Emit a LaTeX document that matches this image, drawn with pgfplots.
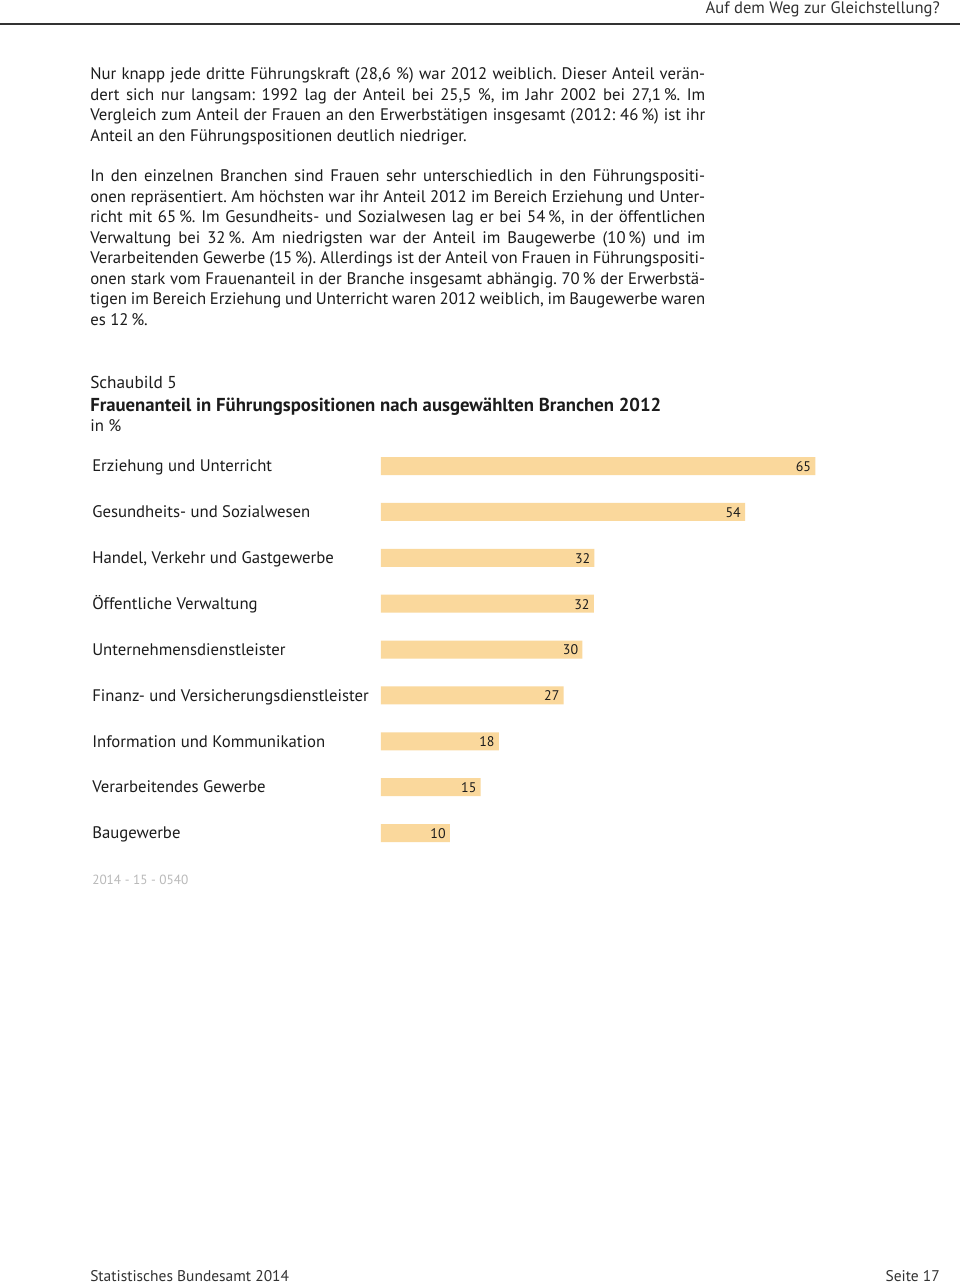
\documentclass[border=0pt]{standalone}
\usepackage{fontspec}
\setmainfont{PT Sans}
\usepackage{pgfplots}
\pgfplotsset{compat=1.18}
\definecolor{barc}{RGB}{250,216,156}
\definecolor{txt}{RGB}{28,28,28}
\definecolor{hdr}{RGB}{50,50,50}
\definecolor{codec}{RGB}{185,185,185}
\newcommand\px[1]{#1*0.75bp}
\newcommand\bodyfont{\fontsize{12.6}{14}\selectfont}
\newcommand\bline[2]{\node[anchor=mid west,inner sep=0,font=\bodyfont,text=txt] at (\px{90},-\px{#1}) {\frenchspacing\makebox[461.25bp][s]{#2}};}
\newcommand\lline[2]{\node[anchor=mid west,inner sep=0,font=\bodyfont,text=txt] at (\px{90},-\px{#1}) {\frenchspacing #2};}
\begin{document}
\frenchspacing
\begin{tikzpicture}
\fill[white] (0,0) rectangle (720bp,-963bp);
% header
\node[anchor=mid east,inner sep=0,font=\fontsize{12.5}{14}\selectfont,text=hdr] at (\px{940},-\px{10}) {Auf dem Weg zur Gleichstellung?};
\draw[line width=1.5bp,hdr] (0,-\px{24}) -- (720bp,-\px{24});
% paragraph 1
\bline{76.5}{Nur knapp jede dritte Führungskraft (28,6 \%) war 2012 weiblich. Dieser Anteil verän-}
\bline{97}{dert sich nur langsam: 1992 lag der Anteil bei 25,5 \%, im Jahr 2002 bei 27,1\,\%. Im}
\bline{117.5}{Vergleich zum Anteil der Frauen an den Erwerbstätigen insgesamt (2012: 46\,\%) ist ihr}
\lline{138}{Anteil an den Führungspositionen deutlich niedriger.}
% paragraph 2
\bline{178.5}{In den einzelnen Branchen sind Frauen sehr unterschiedlich in den Führungspositi-}
\bline{199}{onen repräsentiert. Am höchsten war ihr Anteil 2012 im Bereich Erziehung und Unter-}
\bline{219.5}{richt mit 65\,\%. Im Gesundheits- und Sozialwesen lag er bei 54\,\%, in der öffentlichen}
\bline{240}{Verwaltung bei 32\,\%. Am niedrigsten war der Anteil im Baugewerbe (10\,\%) und im}
\bline{260.5}{Verarbeitenden Gewerbe (15\,\%). Allerdings ist der Anteil von Frauen in Führungspositi-}
\bline{281}{onen stark vom Frauenanteil in der Branche insgesamt abhängig. 70\,\% der Erwerbstä-}
\bline{301.5}{tigen im Bereich Erziehung und Unterricht waren 2012 weiblich, im Baugewerbe waren}
\lline{322}{es 12\,\%.}
% chart titles
\node[anchor=mid west,inner sep=0,font=\fontsize{13}{15}\selectfont,text=txt] at (\px{90},-\px{385.5}) {Schaubild 5};
\node[anchor=mid west,inner sep=0,font=\fontsize{14.1}{16}\selectfont\bfseries,text=txt] at (\px{90},-\px{408.5}) {Frauenanteil in Führungspositionen nach ausgewählten Branchen 2012};
\node[anchor=mid west,inner sep=0,font=\bodyfont,text=txt] at (\px{90},-\px{428.5}) {in \%};
\begin{axis}[
  at={(\px{381},-\px{443.06})}, anchor=north west,
  scale only axis, width=326.25bp, height=309.66bp,
  xbar, bar width=13.5bp,
  xmin=0, xmax=65, ymin=-0.5, ymax=8.5, y dir=reverse,
  axis line style={draw=none},
  xtick=\empty,
  ytick={0,1,2,3,4,5,6,7,8},
  yticklabels={Erziehung und Unterricht, Gesundheits- und Sozialwesen, {Handel, Verkehr und Gastgewerbe}, Öffentliche Verwaltung, Unternehmensdienstleister, Finanz- und Versicherungsdienstleister, Information und Kommunikation, Verarbeitendes Gewerbe, Baugewerbe},
  major tick length=0pt,
  yticklabel style={anchor=mid west, inner sep=0pt, xshift=-\px{289}, yshift=-\px{2.5}, font=\bodyfont, text=txt},
  nodes near coords={\pgfmathprintnumber[fixed,precision=0,assume math mode=true]{\pgfplotspointmeta}},
  point meta=x,
  every node near coord/.append style={anchor=east, inner sep=0pt, xshift=-\px{4}, yshift=-\px{0.5}, font=\fontsize{10.5}{12}\selectfont, text=txt},
  clip=false,
]
\addplot[fill=barc, draw=none] coordinates {
 (64.9,0) (54.4,1) (31.9,2) (31.8,3) (30.1,4) (27.3,5) (17.6,6) (14.9,7) (10.3,8)
};
\end{axis}
\node[anchor=mid west,inner sep=0,font=\fontsize{10}{12}\selectfont,text=codec] at (\px{92},-\px{881}) {2014 - 15 - 0540};
% footer
\node[anchor=mid west,inner sep=0,font=\fontsize{11.65}{13}\selectfont,text=hdr] at (\px{90},-\px{1278}) {Statistisches Bundesamt 2014};
\node[anchor=mid east,inner sep=0,font=\fontsize{11.65}{13}\selectfont,text=hdr] at (\px{940},-\px{1278}) {Seite 17};
\pgfresetboundingbox
\path (0,0) rectangle (720bp,-963bp);
\end{tikzpicture}
\end{document}
